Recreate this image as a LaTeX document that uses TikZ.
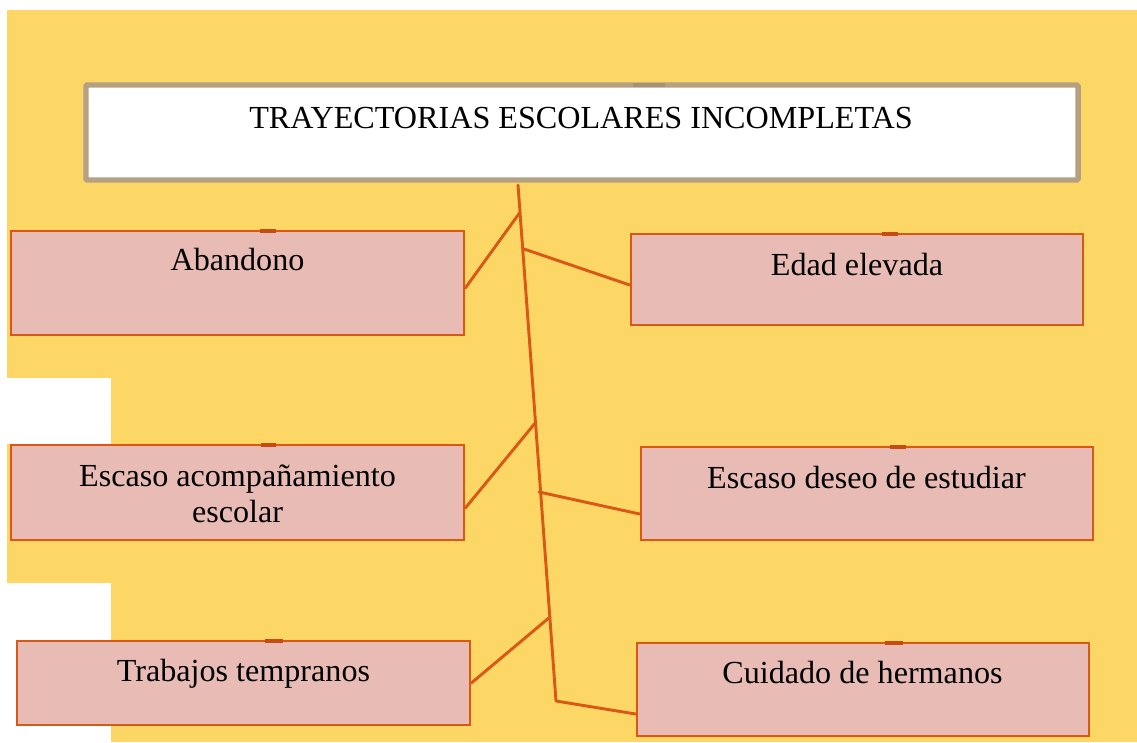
\documentclass[tikz,border=0pt]{standalone}
\usepackage{fontspec}
\setmainfont{Liberation Serif}
\usetikzlibrary{calc}
\definecolor{bgyellow}{RGB}{252,215,102}
\definecolor{boxpink}{RGB}{232,188,180}
\definecolor{edge}{RGB}{217,88,22}
\definecolor{edgedark}{RGB}{200,75,20}
\definecolor{tan}{RGB}{181,160,130}
\definecolor{tandark}{RGB}{165,145,115}
\tikzset{
  box/.style={draw=edge, fill=boxpink, line width=2pt, rectangle, inner sep=0pt},
  lbl/.style={anchor=base, inner sep=0pt, font=\fontsize{24.1}{27}\selectfont, text=black},
  conn/.style={draw=edge, line width=2.2pt, line cap=round, line join=round},
  tick/.style={draw=edgedark, line width=2.4pt},
}
\begin{document}
\begin{tikzpicture}[x=0.75pt, y=-0.75pt]
\useasboundingbox (0,0) rectangle (1137,742);
% background
\fill[bgyellow] (7,10) rectangle (1137,742);
\fill[white] (0,378) rectangle (111,444);
\fill[white] (0,583) rectangle (111,742);
% title
\node[draw=tan, fill=white, line width=4.1pt, rounded corners=1pt, inner sep=0pt,
      minimum width=744pt, minimum height=71.25pt] (title) at (582,132.5) {};
\draw[tandark, line width=3pt] (633,84.5) -- (665,84.5);
\node[lbl] (titletext) at (581,128) {TRAYECTORIAS ESCOLARES INCOMPLETAS};
% boxes
\node[box, minimum width=339.75pt, minimum height=78pt] (aban) at (237.5,283) {};
\node[box, minimum width=339pt, minimum height=68.25pt] (edad) at (857,279.5) {};
\node[box, minimum width=339.75pt, minimum height=71.25pt] (acomp) at (237.5,492.5) {};
\node[box, minimum width=339pt, minimum height=69.75pt] (deseo) at (867,493.5) {};
\node[box, minimum width=339.75pt, minimum height=63pt] (trab) at (243.5,683) {};
\node[box, minimum width=339pt, minimum height=69.75pt] (cuid) at (863,689.5) {};
% small ticks on top edges
\draw[tick] (260,231) -- (276,231);
\draw[tick] (882,234) -- (898,234);
\draw[tick] (261,445) -- (276,445);
\draw[tick] (890,447) -- (906,447);
\draw[tick] (265,641) -- (283,641);
\draw[tick] (885,643) -- (903,643);
% texts
\node[lbl] (tAban) at (237.5,270) {Abandono};
\node[lbl] (tEdad) at (857,275) {Edad elevada};
\node[lbl] (tAcomp1) at (237.5,486) {Escaso acompañamiento};
\node[lbl] (tAcomp2) at (237.5,522) {escolar};
\node[lbl] (tDeseo) at (866.5,488) {Escaso deseo de estudiar};
\node[lbl] (tTrab) at (243.5,681) {Trabajos tempranos};
\node[lbl] (tCuid) at (862.5,683) {Cuidado de hermanos};
% connector joints
\coordinate (top) at (518,185);
\coordinate (j1) at (519.5,213);
\coordinate (j2) at (524,249);
\coordinate (j3) at (536,422);
\coordinate (j4) at (539,492);
\coordinate (j5) at (550,617);
\coordinate (bot) at (556,701);
% connectors
\draw[conn] (top) -- (bot) -- ([shift={(0,24.5)}]cuid.west);
\draw[conn] (j1) -- ([shift={(0,5)}]aban.east);
\draw[conn] (j2) -- ([shift={(0,5.5)}]edad.west);
\draw[conn] (j3) -- ([shift={(0,15.5)}]acomp.east);
\draw[conn] (j4) -- ([shift={(0,20.5)}]deseo.west);
\draw[conn] (j5) -- (trab.east);
\end{tikzpicture}
\end{document}
